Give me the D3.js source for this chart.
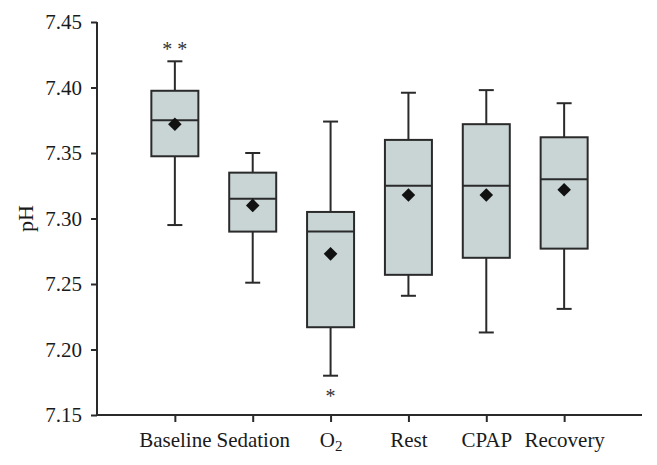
<!DOCTYPE html>
<html><head><meta charset="utf-8">
<script src="https://cdn.jsdelivr.net/npm/d3@7"></script>
<style>
html,body{margin:0;padding:0;background:#fff;}
svg{display:block;font-family:"Liberation Serif","DejaVu Serif",serif;}
</style></head>
<body>
<svg id="chart" width="657" height="465"></svg>
<script>
const categories = ["Baseline","Sedation","O2","Rest","CPAP","Recovery"];
const whiskerHigh = [7.420, 7.350, 7.374, 7.396, 7.398, 7.388];
const q3          = [7.3975,7.335, 7.305, 7.360, 7.372, 7.362];
const median      = [7.375, 7.315, 7.290, 7.325, 7.325, 7.330];
const mean        = [7.372, 7.310, 7.273, 7.318, 7.318, 7.322];
const q1          = [7.3475,7.290, 7.217, 7.257, 7.270, 7.277];
const whiskerLow  = [7.295, 7.251, 7.180, 7.241, 7.213, 7.231];
const marksAbove  = ["**", "", "", "", "", ""];
const marksBelow  = ["", "", "*", "", "", ""];
const yTicks = [7.15, 7.20, 7.25, 7.30, 7.35, 7.40, 7.45];

const data = categories.map((c,i)=>({c, hi:whiskerHigh[i], q3:q3[i], med:median[i], mean:mean[i], q1:q1[i], lo:whiskerLow[i], above:marksAbove[i], below:marksBelow[i]}));

const svg = d3.select("#chart");
const mLeft = 97, mRight = 642, mTop = 22, mBottom = 415;
const x = d3.scalePoint().domain(categories).range([mLeft, mRight]).padding(1);
const y = d3.scaleLinear().domain([7.15, 7.45]).range([mBottom, mTop]);
const ink = "#2a2a2a";
const boxW = 47, capW = 15;
const fontFam = '"Liberation Serif","DejaVu Serif",serif';

const yAxis = svg.append("g").attr("transform", `translate(${mLeft},0)`)
  .call(d3.axisLeft(y).tickValues(yTicks).tickFormat(d3.format(".2f")).tickSize(6).tickPadding(9));
const xAxis = svg.append("g").attr("transform", `translate(0,${mBottom})`)
  .call(d3.axisBottom(x).tickSize(7).tickPadding(10).tickFormat(()=>""));
[yAxis, xAxis].forEach(g=>{
  g.select(".domain").attr("stroke", ink).attr("stroke-width", 2);
  g.selectAll(".tick line").attr("stroke", ink).attr("stroke-width", 2);
  g.selectAll("text").attr("fill", "#1a1a1a").style("font-size","21px").style("font-family",fontFam);
});
yAxis.select(".domain").attr("d", `M0,${y(7.45)}V${y(7.15)}`);
xAxis.select(".domain").attr("d", `M${mLeft},0H${mRight}`);

xAxis.selectAll(".tick text").each(function(d){
  const t = d3.select(this).text(null);
  if (d === "O2") {
    t.append("tspan").text("O");
    t.append("tspan").text("2").attr("dy","4").style("font-size","15px");
  } else t.text(d);
});

svg.append("text").attr("transform", `translate(33,${(mTop+mBottom)/2}) rotate(-90)`)
  .attr("text-anchor","middle").style("font-size","22px").attr("fill","#1a1a1a").text("pH");

const g = svg.append("g");
const bx = g.selectAll("g.box").data(data).join("g").attr("class","box");
bx.append("line").attr("x1",d=>x(d.c)).attr("x2",d=>x(d.c)).attr("y1",d=>y(d.hi)).attr("y2",d=>y(d.q3)).attr("stroke",ink).attr("stroke-width",2);
bx.append("line").attr("x1",d=>x(d.c)).attr("x2",d=>x(d.c)).attr("y1",d=>y(d.q1)).attr("y2",d=>y(d.lo)).attr("stroke",ink).attr("stroke-width",2);
bx.append("line").attr("x1",d=>x(d.c)-capW/2).attr("x2",d=>x(d.c)+capW/2).attr("y1",d=>y(d.hi)).attr("y2",d=>y(d.hi)).attr("stroke",ink).attr("stroke-width",2);
bx.append("line").attr("x1",d=>x(d.c)-capW/2).attr("x2",d=>x(d.c)+capW/2).attr("y1",d=>y(d.lo)).attr("y2",d=>y(d.lo)).attr("stroke",ink).attr("stroke-width",2);
bx.append("rect").attr("x",d=>x(d.c)-boxW/2).attr("width",boxW).attr("y",d=>y(d.q3)).attr("height",d=>y(d.q1)-y(d.q3))
  .attr("fill","#c9d5d5").attr("stroke",ink).attr("stroke-width",2);
bx.append("line").attr("x1",d=>x(d.c)-boxW/2).attr("x2",d=>x(d.c)+boxW/2).attr("y1",d=>y(d.med)).attr("y2",d=>y(d.med)).attr("stroke",ink).attr("stroke-width",2);
bx.append("path").attr("d", d3.symbol().type(d3.symbolSquare).size(92)())
  .attr("transform",d=>`translate(${x(d.c)},${y(d.mean)}) rotate(45)`).attr("fill","#111");
bx.append("text").attr("x",d=>x(d.c)).attr("y",d=>y(d.hi)-5).attr("text-anchor","middle")
  .style("font-size","20px").attr("fill","#333").text(d=>d.above.split("").join(" "));
bx.append("text").attr("x",d=>x(d.c)).attr("y",d=>y(d.lo)+27).attr("text-anchor","middle")
  .style("font-size","20px").attr("fill","#333").text(d=>d.below);
</script>
</body></html>
